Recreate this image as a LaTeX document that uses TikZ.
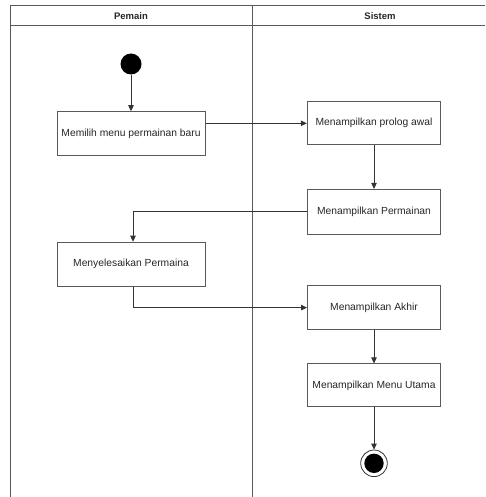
\documentclass[tikz,border=0pt]{standalone}
\usepackage{fontspec}
\setmainfont{Liberation Sans}
\usetikzlibrary{arrows.meta,positioning}
\begin{document}
\begin{tikzpicture}[x=1pt,y=-1pt,
  lane/.style={draw=black!65,line width=1pt},
  act/.style={draw=black!65,line width=1pt,rectangle,inner sep=0pt,font=\fontsize{10.3}{12}\selectfont,text=black!85},
  flow/.style={draw=black!80,line width=0.85pt,-{Triangle[length=6pt,width=5.5pt]}},
  hdr/.style={font=\bfseries\fontsize{9.5}{11}\selectfont,text=black!85}
]
\useasboundingbox (0,0) rectangle (485,497);
% swimlane frame
\draw[lane] (10,6) -- (485,6);
\draw[lane] (10,26) -- (485,26);
\draw[lane] (10,6) -- (10,497);
\draw[lane] (252,6) -- (252,497);
\node[hdr] (h1) at (131,16) {Pemain};
\node[hdr] (h2) at (380,16) {Sistem};
% nodes
\node[circle,fill=black,minimum size=21pt,inner sep=0pt] (start) at (131,64) {};
\node[act,minimum width=148pt,minimum height=44pt] (b1) at (131,133.7) {Memilih menu permainan baru};
\node[act,minimum width=133.4pt,minimum height=43.4pt] (b2) at (374,123.3) {Menampilkan prolog awal};
\node[act,minimum width=133.4pt,minimum height=44.6pt] (b3) at (374,211.7) {Menampilkan Permainan};
\node[act,minimum width=148pt,minimum height=44pt] (b4) at (131,264.2) {Menyelesaikan Permaina};
\node[act,minimum width=133pt,minimum height=43.6pt] (b5) at (374,307.6) {Menampilkan Akhir};
\node[act,minimum width=133.4pt,minimum height=43pt] (b6) at (374,385.4) {Menampilkan Menu Utama};
\node[circle,draw=black!80,line width=0.8pt,minimum size=26.6pt,inner sep=0pt] (end) at (374,463.3) {};
\node[circle,fill=black,minimum size=19.4pt,inner sep=0pt] (endin) at (end) {};
% flows
\draw[flow] (start) -- (b1);
\draw[flow] (b1.east |- b2.west) -- (b2.west);
\draw[flow] (b2) -- (b3);
\draw[flow] (b3.west) -| ([xshift=2pt]b4.north);
\draw[flow] ([xshift=2pt]b4.south) |- (b5.west);
\draw[flow] (b5) -- (b6);
\draw[flow] (b6) -- (end);
\end{tikzpicture}
\end{document}
